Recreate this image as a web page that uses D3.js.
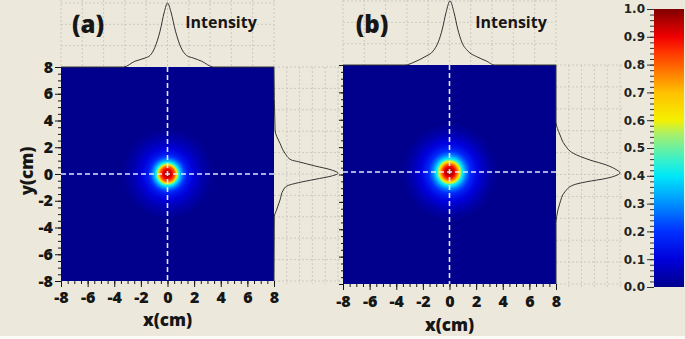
<!DOCTYPE html>
<html><head><meta charset="utf-8">
<script src="https://cdn.jsdelivr.net/npm/d3@7"></script>
<style>html,body{margin:0;padding:0;background:#ece9dc;} svg{display:block;}</style>
</head><body>
<svg id="chart" width="685" height="339"></svg>
<script>
// ---------------- data ----------------
const axisTicks = [-8, -6, -4, -2, 0, 2, 4, 6, 8];
const colorbarTicks = [0.0, 0.1, 0.2, 0.3, 0.4, 0.5, 0.6, 0.7, 0.8, 0.9, 1.0];
const panelLabels = ["(a)", "(b)"];
const profileTitle = "Intensity";
const xTitle = "x(cm)";
const yTitle = "y(cm)";

// jet-like colour map
const colorStops  = [0, 0.1, 0.2, 0.3, 0.4, 0.45, 0.5, 0.55, 0.6, 0.7, 0.75, 0.8, 0.85, 0.9, 1.0];
const colorValues = ["#00008c", "#0000dc", "#0030ff", "#0090ff", "#00e8f8", "#30f0d0", "#6cf0a0",
                     "#a8f068", "#f4f000", "#ffc000", "#ff9000", "#ff6000", "#ff3000", "#f00000", "#800000"];

// radial intensity of the spot (radius in cm)
const spotRadiusA    = [0, 0.2, 0.4, 0.55, 0.65, 0.8, 1.0, 1.25, 1.5, 2.0, 2.5, 3.0, 3.5];
const spotIntensityA = [1.0, 0.95, 0.88, 0.8, 0.7, 0.48, 0.33, 0.22, 0.15, 0.09, 0.05, 0.02, 0];
const spotCenterA    = [0, 0];
const spotRadiusB    = [0, 0.2, 0.4, 0.55, 0.75, 0.95, 1.25, 1.6, 2.0, 2.5, 3.0, 3.6];
const spotIntensityB = [1.0, 0.96, 0.9, 0.82, 0.65, 0.42, 0.28, 0.18, 0.12, 0.07, 0.03, 0];
const spotCenterB    = [0, 0.18];

// horizontal cut (top profile): x in cm, normalised intensity
const topXA = [-8, -3.3, -2.45, -1.69, -1.31, -0.94, -0.56, -0.24, 0, 0.26, 0.6, 1.0, 1.44, 1.94, 2.57, 3.44, 8];
const topIA = [0, 0, 0.09, 0.14, 0.18, 0.31, 0.56, 0.86, 1.0, 0.86, 0.56, 0.31, 0.18, 0.14, 0.09, 0, 0];
const topXB = [-8, -3.34, -2.6, -1.84, -1.22, -0.84, -0.54, -0.26, 0.04, 0.34, 0.62, 0.92, 1.37, 2.04, 2.8, 3.37, 8];
const topIB = [0, 0, 0.05, 0.13, 0.22, 0.36, 0.56, 0.82, 1.0, 0.82, 0.56, 0.36, 0.22, 0.13, 0.06, 0, 0];

// vertical cut (right profile): y in cm, normalised intensity
const rightYA = [8, 3.29, 2.29, 1.55, 1.05, 0.92, 0.6, 0.3, 0.05, -0.15, -0.4, -0.65, -0.9, -1.2, -1.94, -2.69, -3.19, -8];
const rightIA = [0, 0.016, 0.094, 0.172, 0.27, 0.38, 0.64, 0.9, 1.0, 0.9, 0.64, 0.38, 0.2, 0.145, 0.094, 0.04, 0.005, 0];
const rightYB = [8, 3.86, 2.89, 2.15, 1.55, 1.06, 0.69, 0.33, 0.13, -0.11, -0.28, -0.53, -0.77, -1.26, -2.1, -3.08, -3.56, -8];
const rightIB = [0, 0, 0.0625, 0.14, 0.27, 0.53, 0.79, 0.95, 1.0, 0.92, 0.79, 0.48, 0.27, 0.14, 0.06, 0.01, 0, 0];

// ---------------- drawing ----------------
const svg = d3.select("#chart");
const W = 685, H = 339;
const BG = "#ece9dc";
const INK = "#161616";
const FONT = "'Open Sans', sans-serif";
const GRID = "#c4c2b6";

svg.append("rect").attr("width", W).attr("height", H).attr("fill", BG);
svg.append("rect").attr("x", 0).attr("y", 336).attr("width", W).attr("height", 3).attr("fill", "#fbfbf8");

const color = d3.scaleLinear().domain(colorStops).range(colorValues).interpolate(d3.interpolateRgb).clamp(true);
const defs = svg.append("defs");

const panels = [
  {id: "a", label: panelLabels[0], hx0: 61, hx1: 274, hy0: 67, hy1: 281, xPad: 5, yLabels: true,
   spotR: spotRadiusA, spotI: spotIntensityA, spotC: spotCenterA,
   topX: topXA, topI: topIA, rightY: rightYA, rightI: rightIA,
   labelX: 88, labelY: 33, titleX: 221, xTitleY: 326},
  {id: "b", label: panelLabels[1], hx0: 343, hx1: 556, hy0: 65, hy1: 284, xPad: 6, yLabels: false,
   spotR: spotRadiusB, spotI: spotIntensityB, spotC: spotCenterB,
   topX: topXB, topI: topIB, rightY: rightYB, rightI: rightIB,
   labelX: 372, labelY: 33, titleX: 511, xTitleY: 331}
];

const AMP = 64;   // profile height in px for intensity 1

panels.forEach(p => {
  const x = d3.scaleLinear().domain([-8, 8]).range([p.hx0, p.hx1]);
  const y = d3.scaleLinear().domain([-8, 8]).range([p.hy1, p.hy0]);
  const g = svg.append("g");

  // ---- grids of profile areas ----
  const topI = d3.scaleLinear().domain([0, 1]).range([p.hy0, p.hy0 - AMP]);
  const rightI = d3.scaleLinear().domain([0, 1]).range([p.hx1, p.hx1 + AMP]);
  const grid = g.append("g").attr("stroke", GRID).attr("stroke-width", 0.8)
                .attr("stroke-dasharray", "2,2").attr("fill", "none");
  d3.range(0, 11).forEach(k => {
    const xv = x(-8 + k * 1.6);
    grid.append("line").attr("x1", xv).attr("x2", xv).attr("y1", 0).attr("y2", p.hy0);
  });
  [1/3, 2/3, 1.0].forEach(v => {
    grid.append("line").attr("x1", p.hx0).attr("x2", p.hx1).attr("y1", topI(v)).attr("y2", topI(v));
  });
  const rightEnd = p.hx1 + AMP + 3;
  d3.range(0, 11).forEach(k => {
    const yv = y(-8 + k * 1.6);
    grid.append("line").attr("x1", p.hx1).attr("x2", rightEnd).attr("y1", yv).attr("y2", yv);
  });
  rightI.ticks(5).forEach(v => {
    if (v === 0) return;
    grid.append("line").attr("x1", rightI(v)).attr("x2", rightI(v)).attr("y1", p.hy0).attr("y2", p.hy1 + 3);
  });

  // ---- heat map ----
  const clipId = "clip-" + p.id;
  defs.append("clipPath").attr("id", clipId).append("rect")
    .attr("x", p.hx0).attr("y", p.hy0).attr("width", p.hx1 - p.hx0).attr("height", p.hy1 - p.hy0);
  g.append("rect").attr("x", p.hx0).attr("y", p.hy0).attr("width", p.hx1 - p.hx0).attr("height", p.hy1 - p.hy0)
    .attr("fill", color(0));

  const rmax = d3.max(p.spotR);
  const radial = d3.scaleLinear().domain(p.spotR).range(p.spotI).clamp(true);
  const gradId = "spot-" + p.id;
  const rg = defs.append("radialGradient").attr("id", gradId);
  d3.range(0, 101).forEach(k => {
    const t = k / 100;
    rg.append("stop").attr("offset", t).attr("stop-color", color(radial(t * rmax)));
  });
  const cx = x(p.spotC[0]), cy = y(p.spotC[1]);
  g.append("g").attr("clip-path", `url(#${clipId})`)
    .append("ellipse").attr("cx", cx).attr("cy", cy)
    .attr("rx", x(rmax) - x(0)).attr("ry", y(0) - y(rmax))
    .attr("fill", `url(#${gradId})`);

  const dash = g.append("g").attr("stroke", "#eef2ff").attr("stroke-width", 1.6)
    .attr("stroke-dasharray", "5,3").attr("opacity", 0.95);
  dash.append("line").attr("x1", cx).attr("x2", cx).attr("y1", p.hy0).attr("y2", p.hy1);
  dash.append("line").attr("x1", p.hx0).attr("x2", p.hx1).attr("y1", cy).attr("y2", cy);

  // ---- profiles ----
  const topLine = d3.line().x((d, i) => x(p.topX[i])).y((d, i) => topI(p.topI[i])).curve(d3.curveMonotoneX);
  g.append("path").datum(p.topX).attr("d", topLine).attr("fill", "none")
    .attr("stroke", "#333").attr("stroke-width", 1);
  const rightLine = d3.line().x((d, i) => rightI(p.rightI[i])).y((d, i) => y(p.rightY[i])).curve(d3.curveMonotoneY);
  g.append("path").datum(p.rightY).attr("d", rightLine).attr("fill", "none")
    .attr("stroke", "#333").attr("stroke-width", 1);

  // ---- axes ----
  const styleAxis = sel => {
    sel.select(".domain").remove();
    sel.selectAll(".tick line").attr("stroke", INK);
    sel.selectAll("text").attr("fill", INK).attr("font-family", FONT)
       .attr("font-weight", 800).attr("font-size", 16);
  };
  g.append("g").attr("transform", `translate(0,${p.hy1})`)
    .call(d3.axisBottom(x).tickValues(x.ticks(32)).tickSize(3).tickFormat(""))
    .call(styleAxis);
  g.append("g").attr("transform", `translate(0,${p.hy1})`)
    .call(d3.axisBottom(x).tickValues(axisTicks).tickSize(6).tickPadding(p.xPad).tickFormat(d => String(d)))
    .call(styleAxis);

  g.append("g").attr("transform", `translate(${p.hx0},0)`)
    .call(d3.axisLeft(y).tickValues(y.ticks(32)).tickSize(p.yLabels ? 3 : 2).tickFormat(""))
    .call(styleAxis);
  g.append("g").attr("transform", `translate(${p.hx0},0)`)
    .call(d3.axisLeft(y).tickValues(axisTicks).tickSize(p.yLabels ? 6 : 4).tickPadding(2)
      .tickFormat(d => p.yLabels ? String(d) : ""))
    .call(styleAxis);

  // ---- texts ----
  g.append("text").attr("x", p.labelX).attr("y", p.labelY).attr("text-anchor", "middle")
    .attr("font-family", FONT).attr("font-weight", 800).attr("font-size", 24).attr("fill", INK)
    .text(p.label);
  g.append("text").attr("x", p.titleX).attr("y", 28).attr("text-anchor", "middle")
    .attr("font-family", FONT).attr("font-weight", 700).attr("font-size", 16).attr("fill", INK)
    .text(profileTitle);
  g.append("text").attr("x", x(0)).attr("y", p.xTitleY).attr("text-anchor", "middle")
    .attr("font-family", FONT).attr("font-weight", 800).attr("font-size", 17).attr("fill", INK)
    .text(xTitle);
  if (p.yLabels) {
    g.append("text").attr("transform", `translate(33,${(p.hy0 + p.hy1) / 2 - 3}) rotate(-90)`)
      .attr("text-anchor", "middle")
      .attr("font-family", FONT).attr("font-weight", 800).attr("font-size", 17).attr("fill", INK)
      .text(yTitle);
  }
});

// ---------------- colour bar ----------------
const cb = {x: 654, w: 30, y0: 9, y1: 287};
const cbScale = d3.scaleLinear().domain([0, 1]).range([cb.y1, cb.y0]);
const lg = defs.append("linearGradient").attr("id", "cbgrad")
  .attr("x1", 0).attr("y1", 1).attr("x2", 0).attr("y2", 0);
colorStops.forEach((s, i) => lg.append("stop").attr("offset", s).attr("stop-color", colorValues[i]));
svg.append("rect").attr("x", cb.x).attr("y", cb.y0).attr("width", cb.w).attr("height", cb.y1 - cb.y0)
  .attr("fill", "url(#cbgrad)");

const cbStyle = sel => {
  sel.select(".domain").remove();
  sel.selectAll(".tick line").attr("stroke", "#333");
  sel.selectAll("text").attr("fill", "#222").attr("font-family", "'DejaVu Sans', sans-serif")
     .attr("font-weight", 700).attr("font-size", 12);
};
svg.append("g").attr("transform", `translate(${cb.x},0)`)
  .call(d3.axisLeft(cbScale).tickValues(cbScale.ticks(50)).tickSize(4).tickFormat(""))
  .call(cbStyle);
svg.append("g").attr("transform", `translate(${cb.x},0)`)
  .call(d3.axisLeft(cbScale).tickValues(colorbarTicks).tickSize(7).tickPadding(2).tickFormat(d3.format(".1f")))
  .call(cbStyle);
</script>
</body></html>
